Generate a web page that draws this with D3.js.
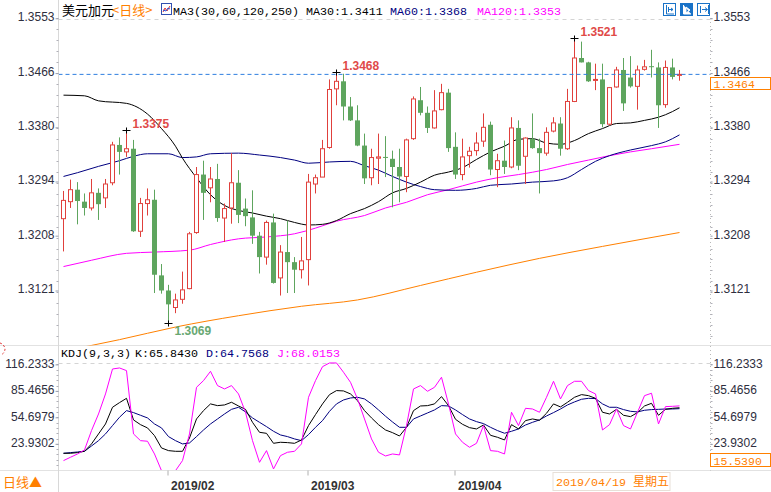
<!DOCTYPE html>
<html><head><meta charset="utf-8">
<script src="https://cdn.jsdelivr.net/npm/d3@7/dist/d3.min.js"></script>
<style>
html,body{margin:0;padding:0;background:#fff;overflow:hidden;}
svg{display:block;}
</style></head>
<body>
<svg id="chart" width="771" height="492"></svg>
<script>
// ---------------- DATA ----------------
const dates = ("01/11 01/14 01/15 01/16 01/17 01/18 01/21 01/22 01/23 01/24 01/25 01/28 01/29 01/30 01/31 " +
  "02/01 02/04 02/05 02/06 02/07 02/08 02/11 02/12 02/13 02/14 02/15 02/18 02/19 02/20 02/21 02/22 02/25 02/26 02/27 02/28 " +
  "03/01 03/04 03/05 03/06 03/07 03/08 03/11 03/12 03/13 03/14 03/15 03/18 03/19 03/20 03/21 03/22 03/25 03/26 03/27 03/28 03/29 " +
  "04/01 04/02 04/03 04/04 04/05 04/08 04/09 04/10 04/11 04/12 04/15 04/16 04/17 04/18 04/19 04/22 04/23 04/24 04/25 04/26 04/29 04/30 " +
  "05/01 05/02 05/03 05/06 05/07 05/08 05/09 05/10 05/13 05/14 05/15").split(" ").map(d => "2019/" + d);

const opens  = [1.3235,1.3262,1.3281,1.3262,1.3252,1.3276,1.3268,1.3292,1.3352,1.3341,
                1.3346,1.3215,1.3259,1.3265,1.3145,1.3121,1.3094,1.3107,1.3124,1.3213,
                1.3305,1.3284,1.3298,1.3236,1.3252,1.3292,1.3251,1.3237,1.3208,1.3174,
                1.3229,1.3141,1.3182,1.3166,1.3154,1.3170,1.3290,1.3301,1.3348,1.3441,
                1.3453,1.3413,1.3391,1.3351,1.3300,1.3331,1.3333,1.3330,1.3317,1.3302,
                1.3362,1.3423,1.3403,1.3379,1.3408,1.3435,1.3349,1.3305,1.3335,1.3343,
                1.3358,1.3384,1.3313,1.3327,1.3317,1.3379,1.3334,1.3362,1.3347,1.3339,
                1.3374,1.3386,1.3346,1.3421,1.3490,1.3483,1.3455,1.3456,1.3385,1.3444,
                1.3471,1.3459,1.3445,1.3472,1.3477,1.3475,1.3416,1.3475,1.3463];
const highs  = [1.3279,1.3297,1.3293,1.3275,1.3298,1.3283,1.3298,1.3357,1.3364,1.3375,
                1.3360,1.3268,1.3283,1.3281,1.3163,1.3130,1.3116,1.3151,1.3214,1.3317,
                1.3327,1.3317,1.3322,1.3259,1.3339,1.3312,1.3267,1.3280,1.3214,1.3232,
                1.3243,1.3193,1.3232,1.3174,1.3206,1.3306,1.3305,1.3360,1.3456,1.3468,
                1.3465,1.3428,1.3415,1.3370,1.3346,1.3370,1.3366,1.3343,1.3346,1.3362,
                1.3429,1.3444,1.3413,1.3439,1.3449,1.3441,1.3372,1.3362,1.3349,1.3372,
                1.3402,1.3389,1.3338,1.3359,1.3396,1.3391,1.3364,1.3402,1.3362,1.3380,
                1.3396,1.3396,1.3441,1.3521,1.3516,1.3484,1.3481,1.3481,1.3444,1.3476,
                1.3490,1.3493,1.3478,1.3487,1.3503,1.3483,1.3486,1.3489,1.3471];
const lows   = [1.3183,1.3252,1.3226,1.3240,1.3248,1.3233,1.3252,1.3288,1.3305,1.3333,
                1.3214,1.3206,1.3240,1.3117,1.3116,1.3069,1.3085,1.3100,1.3123,1.3211,
                1.3233,1.3261,1.3230,1.3198,1.3227,1.3228,1.3223,1.3195,1.3148,1.3162,
                1.3132,1.3113,1.3117,1.3117,1.3140,1.3129,1.3275,1.3301,1.3346,1.3415,
                1.3391,1.3390,1.3350,1.3290,1.3288,1.3290,1.3301,1.3253,1.3261,1.3277,
                1.3360,1.3399,1.3371,1.3378,1.3407,1.3341,1.3298,1.3296,1.3316,1.3335,
                1.3349,1.3304,1.3285,1.3306,1.3315,1.3312,1.3290,1.3346,1.3275,1.3335,
                1.3372,1.3335,1.3344,1.3420,1.3483,1.3452,1.3439,1.3380,1.3383,1.3443,
                1.3406,1.3443,1.3408,1.3470,1.3459,1.3379,1.3411,1.3456,1.3454];
const closes = [1.3264,1.3281,1.3263,1.3252,1.3276,1.3258,1.3290,1.3352,1.3341,1.3346,
                1.3215,1.3259,1.3265,1.3146,1.3121,1.3099,1.3106,1.3122,1.3211,1.3305,
                1.3276,1.3298,1.3236,1.3251,1.3292,1.3241,1.3239,1.3208,1.3174,1.3229,
                1.3133,1.3182,1.3166,1.3154,1.3168,1.3293,1.3300,1.3346,1.3440,1.3453,
                1.3413,1.3391,1.3351,1.3299,1.3332,1.3333,1.3332,1.3317,1.3302,1.3360,
                1.3425,1.3403,1.3379,1.3406,1.3435,1.3347,1.3305,1.3333,1.3342,1.3355,
                1.3380,1.3313,1.3327,1.3317,1.3379,1.3319,1.3363,1.3347,1.3339,1.3372,
                1.3387,1.3346,1.3421,1.3490,1.3483,1.3453,1.3456,1.3385,1.3443,1.3471,
                1.3418,1.3445,1.3471,1.3476,1.3476,1.3415,1.3475,1.3460,1.3464];

// moving averages: [candle index, value]
const ma30 = [[0,1.3431],[3,1.3430],[5,1.3422],[9,1.3418],[12,1.3401],[14,1.3378],[16,1.3350],[17,1.3331],[19,1.3300],
  [21,1.3273],[23,1.3256],[25,1.3248],[27,1.3244],[29,1.3239],[31,1.3235],[33,1.3229],[35,1.3225],[37,1.3226],
  [39,1.3232],[41,1.3243],[43,1.3251],[45,1.3262],[47,1.3276],[49,1.3283],[51,1.3293],[53,1.3304],[55,1.3309],
  [57,1.3316],[59,1.3329],[61,1.3341],[63,1.3350],[65,1.3361],[67,1.3362],[69,1.3355],[71,1.3353],[73,1.3359],
  [75,1.3370],[77,1.3378],[79,1.3386],[81,1.3387],[83,1.3391],[85,1.3396],[87,1.3405],[88,1.3411]];
const ma60 = [[0,1.3302],[2,1.3308],[5,1.3318],[8,1.3327],[10,1.3334],[12,1.3338],[15,1.3338],[17,1.3332],[19,1.3333],
  [21,1.3338],[25,1.3339],[28,1.3336],[31,1.3332],[33,1.3328],[35,1.3323],[38,1.3325],[41,1.3326],[43,1.3319],
  [45,1.3312],[47,1.3302],[49,1.3293],[51,1.3286],[53,1.3281],[56,1.3280],[59,1.3283],[61,1.3288],[64,1.3290],
  [67,1.3293],[70,1.3295],[72,1.3300],[74,1.3313],[76,1.3326],[78,1.3335],[81,1.3344],[84,1.3351],[86,1.3357],[88,1.3368]];
const ma120 = [[0,1.3159],[4,1.3169],[9,1.3180],[13,1.3182],[18,1.3185],[21,1.3194],[25,1.3203],[29,1.3206],[33,1.3211],
  [36,1.3220],[39,1.3231],[43,1.3240],[46,1.3252],[49,1.3261],[52,1.3273],[55,1.3281],[59,1.3293],[62,1.3300],
  [65,1.3305],[69,1.3313],[72,1.3321],[75,1.3328],[78,1.3335],[81,1.3341],[84,1.3346],[88,1.3353]];
const ma250 = [[0,1.3025],[8,1.3043],[16,1.3063],[25,1.3081],[34,1.3096],[42,1.3106],[51,1.3129],[59,1.3150],
  [68,1.3172],[77,1.3191],[88,1.3213]];

// KDJ(9,3,3)
const kLine = [12.9,12.9,13.7,15.2,23.8,35.4,47,66.4,71.8,76.8,51.7,46.2,42.4,33.4,19.1,16,15.2,15.2,30.7,52.8,
  62.5,70.3,68.3,69.1,72.2,67.9,64,48.9,37.3,36.1,24.5,25.7,25.3,24.5,28.4,45.1,57.9,70.3,81.1,85.8,
  85.4,81.9,74.1,62.5,54,46.2,40,36.9,33,43.1,62.5,67.9,68.3,70.3,78.8,68.3,52.4,46.6,42.7,41.2,
  45.8,33.8,31.5,28.4,46.2,41.2,50.9,52.8,51.3,59.4,70.3,66.8,72.2,78,81.1,79.9,76.8,60.6,58.6,64,
  57.1,55.5,60.2,67.9,71,57.1,64,65.2,65.8430];
const dLine = [12.9,13.7,14.4,15.2,21.4,27.6,35.4,45.1,54.8,62.5,60.2,57.1,54,47,42.4,32.3,27.6,23.8,24.9,32.3,
  40,47,52.8,58.6,64,66.4,61,54,48.9,43.9,38.5,34.2,32.3,29.6,27.6,34.6,43.1,50.9,61.7,70.3,
  74.9,77.2,78,76.1,70.3,63.3,56,49.3,43.1,43.1,52.8,56.3,59.8,63.3,68.3,67.9,63.3,57.9,52.8,49.7,
  47.4,43.1,39.3,36.2,38.5,41.2,45.8,48.9,51.7,56.3,60.2,64.4,69.1,72.6,75.7,76.8,76.5,70.3,66.4,66.4,
  63.7,61.7,61,62.9,63.7,64,64.4,64.4,64.7568];
const jLine = [4.4,8.3,12.1,16.8,39.3,58.6,81.9,110.9,112.1,109,35.4,27.6,26.9,12.1,-7.3,-13.1,-7.3,4.4,35.4,89.6,
  97.4,108.2,91.6,87.7,91.6,81.9,60.6,27.6,2.4,16,-5.3,10.2,14.1,15.2,23.8,78,97.4,113.6,117.9,117.9,
  107.1,95.4,76.1,52.8,29.6,14.1,9.8,12.1,11,45.1,87.7,91.6,85,89.6,101.3,70.3,35.4,25.7,19.9,24.5,
  45.1,16,15.2,12.1,60.6,45.1,65.2,64.4,60.6,78,96.6,76.1,91.6,96.6,96.6,85.8,81.9,40,46.2,64.4,
  45.1,41.2,60.6,79.9,82.7,47,67.2,67.5,68.0153];

const priceTicks = [1.3553,1.3466,1.3380,1.3294,1.3208,1.3121];
const kdjTicks = [116.2333,85.4656,54.6979,23.9302];
const kdjLowLabel = 15.5390;
const marks = [[9,"high"],[15,"low"],[39,"high"],[73,"high"]];
const cursorDate = "2019/04/19";
const weekNames = ["星期日","星期一","星期二","星期三","星期四","星期五","星期六"];

// ---------------- LAYOUT ----------------
const RED = "#e0403c", GREEN = "#5ea55e", ORANGE = "#ff8000", NAVY = "#000080", MAG = "#ff00ff";
const AX = "#2e2e3e", GRID = "#d4d4d4";
const L = 58.5, R = 710.5, PB = 345.5, KB = 470.5;
const MONO = "'Liberation Mono','DejaVu Sans Mono',monospace";
const SANS = "'Liberation Sans',Arial,sans-serif";
const CJK = "'Noto Sans CJK SC','Noto Sans',sans-serif";

const svg = d3.select("#chart");
const n = closes.length;
const x = d3.scaleBand().domain(d3.range(n)).range([59.5, 59.5 + 7 * n]);
const cx = i => Math.round(x(i) + x.bandwidth() / 2) + 0.5;
const y = d3.scaleLinear().domain([1.3121, 1.3553]).range([290.5, 18.3]);
const yk = d3.scaleLinear().domain([23.9302, 116.2333]).range([443.8, 364.4]);

const defs = svg.append("defs");
defs.append("clipPath").attr("id", "cp").append("rect").attr("x", L + 0.5).attr("y", 0).attr("width", R - L - 1).attr("height", PB);
defs.append("clipPath").attr("id", "ck").append("rect").attr("x", L + 0.5).attr("y", PB + 0.5).attr("width", R - L - 1).attr("height", KB - PB - 1);

// frame lines
svg.append("line").attr("x1", 0).attr("x2", 771).attr("y1", PB).attr("y2", PB).attr("stroke", "#e2e2e2");
svg.append("line").attr("x1", 0).attr("x2", 771).attr("y1", KB).attr("y2", KB).attr("stroke", "#e2e2e2");
svg.append("line").attr("x1", L).attr("x2", L).attr("y1", 0).attr("y2", 492).attr("stroke", "#d8d8d8");
svg.append("line").attr("x1", R).attr("x2", R).attr("y1", 18).attr("y2", KB).attr("stroke", "#b8b8b8").attr("stroke-dasharray", "1,3");

// grid dashed lines
svg.append("line").attr("x1", L).attr("x2", R).attr("y1", Math.round(y(priceTicks[0])) + 1.5).attr("y2", Math.round(y(priceTicks[0])) + 1.5)
  .attr("stroke", GRID).attr("stroke-dasharray", "4,4");
svg.append("line").attr("x1", L).attr("x2", R).attr("y1", Math.round(yk(kdjTicks[0])) - 0.5).attr("y2", Math.round(yk(kdjTicks[0])) - 0.5)
  .attr("stroke", GRID).attr("stroke-dasharray", "4,4");

// minor ticks on axes
function minorTicks(scale, ticks, y0, y1) {
  const step = (ticks[0] - ticks[1]) / 5;
  const vals = [];
  for (let v = ticks[0]; ; v -= step) { const p = scale(v); if (p > y1) break; if (p >= y0) vals.push(p); }
  vals.forEach(p => {
    svg.append("line").attr("x1", L - 2).attr("x2", L).attr("y1", Math.round(p) + 0.5).attr("y2", Math.round(p) + 0.5).attr("stroke", "#b0b0b8");
    svg.append("line").attr("x1", R).attr("x2", R + 2).attr("y1", Math.round(p) + 0.5).attr("y2", Math.round(p) + 0.5).attr("stroke", "#b0b0b8");
  });
}
minorTicks(y, priceTicks, 14, 342);
minorTicks(yk, kdjTicks, 350, 468);

// axes (library axes)
function styleAxis(dy) {
  return g => {
    g.select(".domain").remove();
    g.selectAll(".tick line").attr("stroke", "#9aa0b0");
    g.selectAll("text").attr("fill", AX).attr("dy", dy).style("font-family", SANS).style("font-size", "12px");
  };
}
svg.append("g").attr("transform", `translate(${L},0)`)
  .call(d3.axisLeft(y).tickValues(priceTicks).tickFormat(d3.format(".4f")).tickSize(3).tickPadding(1)).call(styleAxis("0.2em"));
svg.append("g").attr("transform", `translate(${R},0)`)
  .call(d3.axisRight(y).tickValues(priceTicks).tickFormat(d3.format(".4f")).tickSize(2).tickPadding(1)).call(styleAxis("0.2em"));
svg.append("g").attr("transform", `translate(${L},0)`)
  .call(d3.axisLeft(yk).tickValues(kdjTicks).tickFormat(d3.format(".4f")).tickSize(3).tickPadding(1)).call(styleAxis("0.25em"));
svg.append("g").attr("transform", `translate(${R},0)`)
  .call(d3.axisRight(yk).tickValues(kdjTicks).tickFormat(d3.format(".4f")).tickSize(2).tickPadding(1)).call(styleAxis("0.25em"));

// ---------------- PRICE PANEL ----------------
const gP = svg.append("g").attr("clip-path", "url(#cp)");

const maLine = d3.line().x(d => cx(d[0])).y(d => y(d[1])).curve(d3.curveMonotoneX);
[[ma250, ORANGE], [ma120, MAG], [ma60, NAVY], [ma30, "#000"]].forEach(([arr, col]) => {
  gP.append("path").attr("d", maLine(arr)).attr("fill", "none").attr("stroke", col).attr("stroke-width", 1);
});

const candles = gP.append("g").selectAll("g").data(d3.range(n)).join("g");
candles.each(function (i) {
  const g = d3.select(this);
  const o = opens[i], c = closes[i], h = highs[i], l = lows[i];
  const up = c >= o, col = up ? RED : GREEN, X = cx(i);
  const top = y(Math.max(o, c)), bh = Math.max(1, y(Math.min(o, c)) - top);
  if (up) {
    g.append("line").attr("x1", X).attr("x2", X).attr("y1", y(h)).attr("y2", top).attr("stroke", col);
    g.append("line").attr("x1", X).attr("x2", X).attr("y1", top + bh).attr("y2", y(l)).attr("stroke", col);
    g.append("rect").attr("x", X - 2).attr("y", top).attr("width", 4).attr("height", bh)
      .attr("fill", "#fff").attr("stroke", col).attr("stroke-width", 1);
  } else {
    g.append("line").attr("x1", X).attr("x2", X).attr("y1", y(h)).attr("y2", y(l)).attr("stroke", col);
    g.append("rect").attr("x", X - 2.5).attr("y", top).attr("width", 5).attr("height", bh).attr("fill", col);
  }
});

// current price dashed line
const last = closes[n - 1];
gP.append("line").attr("x1", L).attr("x2", R).attr("y1", y(last)).attr("y2", y(last))
  .attr("stroke", "#2f7fe0").attr("stroke-dasharray", "4,3");

// extreme marks
marks.forEach(([i, t]) => {
  const v = t === "high" ? highs[i] : lows[i];
  const X = cx(i), Y = Math.round(y(v)) + 0.5;
  svg.append("line").attr("x1", X - 4).attr("x2", X + 4).attr("y1", Y).attr("y2", Y).attr("stroke", "#000");
  svg.append("line").attr("x1", X).attr("x2", X).attr("y1", Y - 3).attr("y2", Y + 3).attr("stroke", "#000");
  svg.append("text").attr("x", X + 6).attr("y", t === "high" ? Y - 3 : Y + 11)
    .attr("fill", t === "high" ? "#e04a48" : "#68a872").style("font-family", SANS).style("font-size", "12px").style("font-weight", "bold")
    .text(v.toFixed(4));
});

// current price box
const bY = Math.round(y(last) + 3) + 0.5;
svg.append("rect").attr("x", R).attr("y", bY).attr("width", 60).attr("height", 12).attr("fill", "#fff").attr("stroke", ORANGE);
svg.append("text").attr("x", R + 3).attr("y", bY + 10.5).attr("fill", ORANGE).style("font-family", MONO).style("font-size", "11.5px").text(last.toFixed(4));

// ---------------- KDJ PANEL ----------------
const gK = svg.append("g").attr("clip-path", "url(#ck)");
const kl = d3.line().x((d, i) => cx(i)).y(d => yk(d));
[[dLine, NAVY], [kLine, "#000"], [jLine, MAG]].forEach(([arr, col]) => {
  gK.append("path").attr("d", kl(arr)).attr("fill", "none").attr("stroke", col).attr("stroke-width", 1);
});
const kbY = Math.round(yk(kdjTicks[3]) + 9.5) + 0.5;
svg.append("rect").attr("x", R).attr("y", kbY).attr("width", 60).attr("height", 13).attr("fill", "#fff").attr("stroke", ORANGE);
svg.append("text").attr("x", R + 3).attr("y", kbY + 11).attr("fill", ORANGE).style("font-family", MONO).style("font-size", "11.5px").text(kdjLowLabel.toFixed(4));

// ---------------- LEGENDS ----------------
const leg = svg.append("text").attr("y", 15);
leg.append("tspan").attr("x", 62).style("font-family", CJK).style("font-size", "13px").attr("fill", "#000").text("美元加元");
leg.append("tspan").attr("x", 112).style("font-family", CJK).style("font-size", "13px").attr("fill", ORANGE).text("<日线>");
const lastOf = a => a[a.length - 1][1].toFixed(4);
const leg2 = svg.append("text").attr("y", 15).style("font-family", MONO).style("font-size", "11.67px");
leg2.append("tspan").attr("x", 173).attr("fill", "#000").text("MA3(30,60,120,250) MA30:" + lastOf(ma30));
leg2.append("tspan").attr("x", 390).attr("fill", NAVY).text("MA60:" + lastOf(ma60));
leg2.append("tspan").attr("x", 477).attr("fill", MAG).text("MA120:" + lastOf(ma120));
// legend icon
svg.append("rect").attr("x", 161.5).attr("y", 3.5).attr("width", 10).attr("height", 11).attr("fill", "#fff").attr("stroke", "#3050b0");
svg.append("polyline").attr("points", "163,12 165,8 167,11 170,6").attr("fill", "none").attr("stroke", "#e03030");
svg.append("polyline").attr("points", "163,10 166,11 168,8 170,9").attr("fill", "none").attr("stroke", "#3050d0");

const kleg = svg.append("text").attr("y", 357).style("font-family", MONO).style("font-size", "11.67px");
kleg.append("tspan").attr("x", 61).attr("fill", "#000").text("KDJ(9,3,3)");
kleg.append("tspan").attr("x", 135).attr("fill", "#000").text("K:" + kLine[n - 1].toFixed(4));
kleg.append("tspan").attr("x", 206).attr("fill", NAVY).text("D:" + dLine[n - 1].toFixed(4));
kleg.append("tspan").attr("x", 277).attr("fill", MAG).text("J:" + jLine[n - 1].toFixed(4));

// top-right icons
const BLUE = "#1a73c8";
[[663, false], [680, true], [697, false]].forEach(([ix, filled], k) => {
  svg.append("rect").attr("x", ix + 0.5).attr("y", 3.5).attr("width", 12).attr("height", 12)
    .attr("fill", filled ? BLUE : "#fff").attr("stroke", BLUE);
  const c = filled ? "#fff" : BLUE;
  if (k === 0) {
    svg.append("path").attr("d", `M${ix + 3.5},5 V14 H${ix + 11} M${ix + 5.5},7 V12 M${ix + 5.5},9.5 H${ix + 10} M${ix + 8},8 L${ix + 10},9.5 L${ix + 8},11`).attr("stroke", c).attr("fill", "none");
  } else if (k === 1) {
    svg.append("path").attr("d", `M${ix + 3.5},5 V14 H${ix + 11} M${ix + 6},7 L${ix + 10},10 L${ix + 6},13 Z`).attr("stroke", c).attr("fill", c);
  } else {
    svg.append("path").attr("d", `M${ix + 3.5},6 V13 M${ix + 5},9.5 H${ix + 10} M${ix + 8},7.5 L${ix + 10.5},9.5 L${ix + 8},11.5 M${ix + 11.5},5 V14`).attr("stroke", c).attr("fill", "none");
  }
});

// left edge small marker
svg.append("path").attr("d", "M0,343 A7,7 0 0 1 5,349 A7,7 0 0 1 1,355").attr("fill", "none").attr("stroke", "#e03030").attr("stroke-dasharray", "2,2");

// ---------------- X AXIS ----------------
const ci = dates.indexOf(cursorDate);
const boxX0 = cx(ci) - 0.5, boxW = 117;
// month starts; a month label that falls under the cursor date box is hidden by it
const monthIdx = d3.range(1, n).filter(i => dates[i].slice(5, 7) !== dates[i - 1].slice(5, 7))
  .filter(i => !(cx(i) + 48 > boxX0 && cx(i) < boxX0 + boxW));
const xa = svg.append("g").attr("transform", `translate(0,${KB})`)
  .call(d3.axisBottom(x).tickValues(monthIdx).tickFormat(i => dates[i].slice(0, 7)).tickSize(5).tickPadding(6));
xa.select(".domain").remove();
xa.selectAll(".tick line").attr("stroke", "#b0b0b0");
xa.selectAll("text").attr("fill", "#333").attr("text-anchor", "start").attr("x", 3).attr("dy", "0.72em")
  .style("font-family", SANS).style("font-size", "12px").style("font-weight", "bold");

// cursor date box
const dd = cursorDate.split("/").map(Number);
const wd = weekNames[new Date(dd[0], dd[1] - 1, dd[2]).getDay()];
svg.append("rect").attr("x", boxX0).attr("y", 472.5).attr("width", boxW).attr("height", 18).attr("fill", "#fff").attr("stroke", "#e8e0d8");
const dt = svg.append("text").attr("x", cx(ci) + 2.5).attr("y", 486).attr("fill", ORANGE);
dt.append("tspan").style("font-family", MONO).style("font-size", "11.67px").text(cursorDate + " ");
dt.append("tspan").style("font-family", CJK).style("font-size", "12px").text(wd);

// bottom-left period label
svg.append("text").attr("x", 3).attr("y", 487).attr("fill", ORANGE).style("font-family", CJK).style("font-size", "13px").text("日线▲");
</script>
</body></html>
